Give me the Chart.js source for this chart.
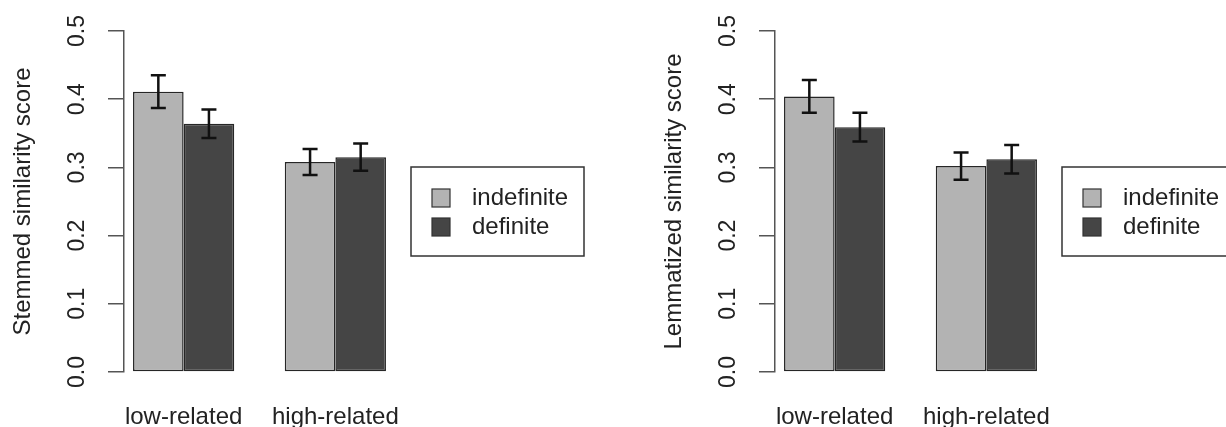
<!DOCTYPE html>
<html>
<head>
<meta charset="utf-8">
<script src="https://cdn.jsdelivr.net/npm/chart.js@4/dist/chart.umd.min.js"></script>
<style>
  html, body { margin: 0; padding: 0; background: #fff; overflow: hidden; }
  #wrap { position: relative; width: 1226px; height: 427px; }
  canvas { position: absolute; top: 0; }
  #chart1 { left: 0; }
  #chart2 { left: 651px; }
</style>
</head>
<body>
<div id="wrap">
  <canvas id="chart1" width="613" height="427"></canvas>
  <canvas id="chart2" width="613" height="427"></canvas>
</div>
<script>
const categories = ["low-related", "high-related"];
const seriesNames = ["indefinite", "definite"];

// stemmed scores (mean, standard error)
const stemIndef = [0.411, 0.308];
const stemDef = [0.364, 0.315];
const stemIndefErr = [0.024, 0.019];
const stemDefErr = [0.021, 0.020];

// lemmatized scores
const lemIndef = [0.404, 0.302];
const lemDef = [0.359, 0.312];
const lemIndefErr = [0.024, 0.020];
const lemDefErr = [0.021, 0.021];

const yTicks = [0, 0.1, 0.2, 0.3, 0.4, 0.5];

const FONT = '"Liberation Sans", Arial, Helvetica, sans-serif';
const colors = ["#b3b3b3", "#454545"];

const errorBars = {
  id: "errorBars",
  afterDatasetsDraw(chart) {
    const { ctx } = chart;
    const y = chart.scales.y;
    ctx.save();
    ctx.strokeStyle = "#111";
    ctx.lineWidth = 2.5;
    chart.data.datasets.forEach((ds, i) => {
      chart.getDatasetMeta(i).data.forEach((bar, j) => {
        const v = ds.data[j].y;
        const e = ds.errors[j];
        const top = y.getPixelForValue(v + e);
        const bot = y.getPixelForValue(v - e);
        ctx.beginPath();
        ctx.moveTo(bar.x, top);
        ctx.lineTo(bar.x, bot);
        ctx.moveTo(bar.x - 7.5, top);
        ctx.lineTo(bar.x + 7.5, top);
        ctx.moveTo(bar.x - 7.5, bot);
        ctx.lineTo(bar.x + 7.5, bot);
        ctx.stroke();
      });
    });
    ctx.restore();
  },
};

// R-style boxed legend to the right of the bars
const legendBox = {
  id: "legendBox",
  afterDraw(chart) {
    const { ctx, chartArea } = chart;
    const x = chartArea.right + 16;
    const y = chartArea.top + 136;
    ctx.save();
    ctx.strokeStyle = "#333";
    ctx.lineWidth = 1.5;
    ctx.strokeRect(x, y, 173, 89);
    ctx.font = "24px " + FONT;
    ctx.textBaseline = "middle";
    chart.data.datasets.forEach((ds, i) => {
      const cy = y + 31 + i * 29;
      ctx.fillStyle = ds.backgroundColor;
      ctx.fillRect(x + 21, cy - 9, 18, 18);
      ctx.lineWidth = 1.2;
      ctx.strokeRect(x + 21, cy - 9, 18, 18);
      ctx.fillStyle = "#222";
      ctx.fillText(ds.label, x + 61, cy);
    });
    ctx.restore();
  },
};

function makeChart(id, title, means, errs) {
  new Chart(document.getElementById(id), {
    type: "bar",
    data: {
      datasets: seriesNames.map((name, s) => ({
        label: name,
        data: means[s].map((v, i) => ({ x: i + 1, y: v })),
        errors: errs[s],
        backgroundColor: colors[s],
        borderColor: "#262626",
        borderWidth: 1.5,
        borderSkipped: false,
        categoryPercentage: 0.667,
        barPercentage: 1.0,
      })),
    },
    options: {
      responsive: false,
      animation: false,
      layout: { padding: { left: 0, top: 31, right: 218, bottom: 0 } },
      plugins: { legend: { display: false }, tooltip: { enabled: false } },
      scales: {
        x: {
          type: "linear",
          offset: false,
          bounds: "data",
          min: 0.607,
          max: 2.393,
          grid: { display: false, offset: false },
          border: { display: false },
          afterBuildTicks: (scale) => {
            scale.ticks = categories.map((c, i) => ({ value: i + 1 }));
          },
          afterFit: (scale) => {
            scale.height = 55;
          },
          ticks: {
            autoSkip: false,
            maxRotation: 0,
            padding: 23,
            color: "#222",
            font: { family: FONT, size: 24 },
            callback: (v) => categories[v - 1],
          },
        },
        y: {
          min: 0,
          max: 0.5,
          afterBuildTicks: (scale) => {
            scale.ticks = yTicks.map((t) => ({ value: t }));
          },
          afterFit: (scale) => {
            scale.width = 124;
          },
          grid: {
            drawOnChartArea: false,
            tickLength: 16,
            color: "#555",
            lineWidth: 1.5,
          },
          border: { display: true, color: "#555", width: 1.5 },
          title: {
            display: true,
            text: title,
            color: "#222",
            font: { family: FONT, size: 24 },
            padding: { top: 9, bottom: 0 },
          },
          ticks: {
            minRotation: 90,
            maxRotation: 90,
            crossAlign: "center",
            padding: 14,
            color: "#222",
            font: { family: FONT, size: 23 },
            callback: (v) => v.toFixed(1),
          },
        },
      },
    },
    plugins: [errorBars, legendBox],
  });
}

makeChart("chart1", "Stemmed similarity score", [stemIndef, stemDef], [stemIndefErr, stemDefErr]);
makeChart("chart2", "Lemmatized similarity score", [lemIndef, lemDef], [lemIndefErr, lemDefErr]);
</script>
</body>
</html>
